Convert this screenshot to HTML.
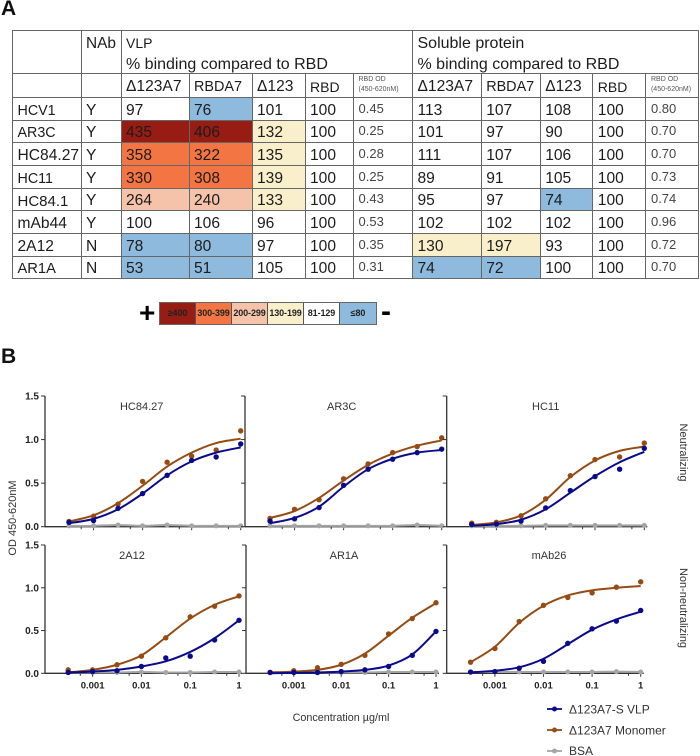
<!DOCTYPE html>
<html lang="en">
<head>
<meta charset="utf-8">
<title>VLP and soluble protein binding</title>
<style>
html,body{margin:0;padding:0;background:#fff;}
body{width:700px;height:756px;position:relative;overflow:hidden;font-family:"Liberation Sans",sans-serif;color:#1c1c1c;}
.panel-letter{position:absolute;font-weight:bold;font-size:21px;line-height:21px;color:#111;}
#tbl{position:absolute;left:12px;top:30px;display:grid;border-top:1px solid #666;border-left:1px solid #666;
 grid-template-columns:68.5px 40px 68px 63px 53px 48px 59.5px 68.7px 59px 52.6px 52.7px 53px;
 grid-template-rows:43px 24px 23px 22px 23px 23px 22px 23px 23px 22px;font-size:15.6px;border-collapse:separate;border-spacing:0;}
#tbl tbody,#tbl tr{display:contents;}
#tbl td{display:flex;align-items:center;box-sizing:border-box;border:0;border-right:1px solid #666;border-bottom:1px solid #666;padding:3px 0 0 4.5px;white-space:nowrap;overflow:hidden;}
#tbl td.h{display:block;line-height:21px;font-size:16px;padding-top:2px;}
#tbl td.h2{grid-column:span 5;}
#tbl td.od{font-size:13px;color:#444;padding:0 0 2px 5px;}
#tbl td.sm{display:block;font-size:7px;line-height:9.5px;color:#555;padding:1px 0 0 5px;}
#tbl td.n{font-size:14.3px;}
.r{background:#971c14;}.o{background:#f37544;}.p{background:#f4c3aa;}.y{background:#f9efcb;}.b{background:#8dbadd;}
#key{position:absolute;left:159px;top:302px;width:216px;height:21px;display:flex;border:1px solid #666;box-sizing:content-box;font-size:9px;font-weight:bold;text-align:center;line-height:21px;color:#222;}
#key div{width:36px;border-right:1px solid #555;box-sizing:border-box;white-space:nowrap;overflow:hidden;letter-spacing:-.1px;}
#key div:last-child{border-right:0;}
.sign{position:absolute;font-weight:bold;color:#000;}
#charts{position:absolute;left:0;top:0;}
</style>
</head>
<body>
<div class="panel-letter" style="left:1px;top:-2px">A</div>
<div class="panel-letter" style="left:1px;top:346px">B</div>

<table id="tbl">
<tr><td></td><td class="h" style="font-size:15.4px">NAb</td><td class="h h2"><span style="font-size:14px">VLP</span><br>% binding compared to RBD</td><td class="h h2">Soluble protein<br>% binding compared to RBD</td></tr>
<tr><td></td><td></td><td>Δ123A7</td><td style="font-size:14.4px">RBDA7</td><td>Δ123</td><td style="font-size:14px">RBD</td><td class="sm">RBD OD<br>(450-620nM)</td><td>Δ123A7</td><td style="font-size:14.4px">RBDA7</td><td>Δ123</td><td style="font-size:14px">RBD</td><td class="sm">RBD OD<br>(450-620nM)</td></tr>
<tr><td class="n">HCV1</td><td>Y</td><td>97</td><td class="b">76</td><td>101</td><td>100</td><td class="od">0.45</td><td>113</td><td>107</td><td>108</td><td>100</td><td class="od">0.80</td></tr>
<tr><td class="n">AR3C</td><td>Y</td><td class="r">435</td><td class="r">406</td><td class="y">132</td><td>100</td><td class="od">0.25</td><td>101</td><td>97</td><td>90</td><td>100</td><td class="od">0.70</td></tr>
<tr><td>HC84.27</td><td>Y</td><td class="o">358</td><td class="o">322</td><td class="y">135</td><td>100</td><td class="od">0.28</td><td>111</td><td>107</td><td>106</td><td>100</td><td class="od">0.70</td></tr>
<tr><td class="n">HC11</td><td>Y</td><td class="o">330</td><td class="o">308</td><td class="y">139</td><td>100</td><td class="od">0.25</td><td>89</td><td>91</td><td>105</td><td>100</td><td class="od">0.73</td></tr>
<tr><td style="font-size:15px">HC84.1</td><td>Y</td><td class="p">264</td><td class="p">240</td><td class="y">133</td><td>100</td><td class="od">0.43</td><td>95</td><td>97</td><td class="b">74</td><td>100</td><td class="od">0.74</td></tr>
<tr><td>mAb44</td><td>Y</td><td>100</td><td>106</td><td>96</td><td>100</td><td class="od">0.53</td><td>102</td><td>102</td><td>102</td><td>100</td><td class="od">0.96</td></tr>
<tr><td>2A12</td><td>N</td><td class="b">78</td><td class="b">80</td><td>97</td><td>100</td><td class="od">0.35</td><td class="y">130</td><td class="y">197</td><td>93</td><td>100</td><td class="od">0.72</td></tr>
<tr><td style="font-size:14.7px">AR1A</td><td>N</td><td class="b">53</td><td class="b">51</td><td>105</td><td>100</td><td class="od">0.31</td><td class="b">74</td><td class="b">72</td><td>100</td><td>100</td><td class="od">0.70</td></tr>
</table>

<div class="sign" style="left:139px;top:297px;font-size:28px;line-height:32px">+</div>
<div id="key">
<div class="r">≥400</div>
<div class="o">300-399</div>
<div class="p">200-299</div>
<div class="y">130-199</div>
<div style="background:#fff">81-129</div>
<div class="b">≤80</div>
</div>
<div class="sign" style="left:381px;top:295px;font-size:30px;line-height:34px">-</div>

<svg id="charts" width="700" height="756" viewBox="0 0 700 756" xmlns="http://www.w3.org/2000/svg" font-family="'Liberation Sans',sans-serif">
<text transform="translate(16,518) rotate(-90)" text-anchor="middle" font-size="11" fill="#333">OD 450-620nM</text>
<text x="341" y="721" text-anchor="middle" font-size="10.8" fill="#333">Concentration µg/ml</text>
<text transform="translate(680,452.5) rotate(90)" text-anchor="middle" font-size="11" fill="#333">Neutralizing</text>
<text transform="translate(680,608) rotate(90)" text-anchor="middle" font-size="11" fill="#333">Non-neutralizing</text>
<g>
<g><line x1="547" x2="562" y1="709" y2="709" stroke="#0a0a8c" stroke-width="1.8"/><circle cx="554.5" cy="709" r="2.5" fill="#0a0a8c"/><text x="569" y="713.5" font-size="12" fill="#333">Δ123A7-S VLP</text></g>
<g><line x1="547" x2="562" y1="730" y2="730" stroke="#964b12" stroke-width="1.8"/><circle cx="554.5" cy="730" r="2.5" fill="#964b12"/><text x="569" y="734.5" font-size="12" fill="#333">Δ123A7 Monomer</text></g>
<g><line x1="547" x2="562" y1="751" y2="751" stroke="#a5a5a5" stroke-width="1.8"/><circle cx="554.5" cy="751" r="2.5" fill="#a5a5a5"/><text x="569" y="755" font-size="12" fill="#333">BSA</text></g>
</g>
</svg>

<script>
// Shared axis data
const concentrations = [0.000316, 0.001, 0.00316, 0.01, 0.0316, 0.1, 0.316, 1];
const xTickValues = [0.001, 0.01, 0.1, 1];
const xTickLabels = ['0.001', '0.01', '0.1', '1'];
const xMinorTickValues = [0.00056, 0.0056, 0.056, 0.56];
const yTickValues = [0, 0.5, 1, 1.5];
const yTickLabels = ['0.0', '0.5', '1.0', '1.5'];
const panelNames = ['HC84.27', 'AR3C', 'HC11', '2A12', 'AR1A', 'mAb26'];

// HC84.27
const hc8427Vlp = [0.05, 0.07, 0.21, 0.38, 0.59, 0.76, 0.80, 0.95];
const hc8427VlpFit = [0.04, 0.09, 0.20, 0.38, 0.59, 0.75, 0.85, 0.91];
const hc8427Mono = [0.06, 0.12, 0.26, 0.52, 0.74, 0.81, 0.88, 1.10];
const hc8427MonoFit = [0.06, 0.13, 0.27, 0.47, 0.69, 0.85, 0.96, 1.01];
const hc8427Bsa = [0.01, 0.01, 0.02, 0.01, 0.02, 0.01, 0.01, 0.01];
// AR3C
const ar3cVlp = [0.065, 0.09, 0.22, 0.475, 0.66, 0.775, 0.85, 0.89];
const ar3cVlpFit = [0.04, 0.10, 0.23, 0.46, 0.66, 0.78, 0.85, 0.88];
const ar3cMono = [0.095, 0.20, 0.31, 0.55, 0.72, 0.85, 0.92, 1.02];
const ar3cMonoFit = [0.10, 0.18, 0.33, 0.53, 0.71, 0.84, 0.93, 0.99];
const ar3cBsa = [0.01, 0.01, 0.01, 0.01, 0.01, 0.01, 0.02, 0.01];
// HC11
const hc11Vlp = [0.025, 0.03, 0.065, 0.215, 0.415, 0.575, 0.66, 0.90];
const hc11VlpFit = [0.01, 0.03, 0.08, 0.20, 0.39, 0.58, 0.74, 0.86];
const hc11Mono = [0.04, 0.05, 0.125, 0.32, 0.585, 0.77, 0.80, 0.96];
const hc11MonoFit = [0.02, 0.05, 0.13, 0.31, 0.57, 0.76, 0.87, 0.92];
const hc11Bsa = [0.01, 0.01, 0.01, 0.015, 0.015, 0.015, 0.015, 0.015];
// 2A12
const a12Vlp = [0.01, 0.02, 0.03, 0.08, 0.18, 0.20, 0.39, 0.62];
const a12VlpFit = [0.01, 0.02, 0.04, 0.08, 0.14, 0.25, 0.41, 0.62];
const a12Mono = [0.04, 0.04, 0.10, 0.20, 0.415, 0.66, 0.785, 0.905];
const a12MonoFit = [0.01, 0.04, 0.10, 0.21, 0.42, 0.64, 0.80, 0.90];
const a12Bsa = [0.01, 0.01, 0.01, 0.015, 0.01, 0.01, 0.015, 0.015];
// AR1A
const ar1aVlp = [0.01, 0.01, 0.01, 0.02, 0.04, 0.08, 0.21, 0.49];
const ar1aVlpFit = [0.00, 0.005, 0.01, 0.02, 0.04, 0.09, 0.22, 0.49];
const ar1aMono = [0.01, 0.03, 0.065, 0.105, 0.21, 0.46, 0.64, 0.825];
const ar1aMonoFit = [0.01, 0.02, 0.04, 0.10, 0.23, 0.44, 0.65, 0.82];
const ar1aBsa = [0.01, 0.01, 0.01, 0.01, 0.01, 0.015, 0.015, 0.015];
// mAb26
const mab26Vlp = [0.015, 0.02, 0.06, 0.14, 0.35, 0.52, 0.61, 0.735];
const mab26VlpFit = [0.01, 0.03, 0.07, 0.17, 0.34, 0.51, 0.63, 0.72];
const mab26Mono = [0.13, 0.29, 0.605, 0.795, 0.887, 0.94, 1.007, 1.07];
const mab26MonoFit = [0.13, 0.31, 0.59, 0.79, 0.91, 0.97, 1.00, 1.02];
const mab26Bsa = [0.015, 0.015, 0.015, 0.015, 0.015, 0.015, 0.02, 0.015];

const panelVlp = [hc8427Vlp, ar3cVlp, hc11Vlp, a12Vlp, ar1aVlp, mab26Vlp];
const panelVlpFit = [hc8427VlpFit, ar3cVlpFit, hc11VlpFit, a12VlpFit, ar1aVlpFit, mab26VlpFit];
const panelMono = [hc8427Mono, ar3cMono, hc11Mono, a12Mono, ar1aMono, mab26Mono];
const panelMonoFit = [hc8427MonoFit, ar3cMonoFit, hc11MonoFit, a12MonoFit, ar1aMonoFit, mab26MonoFit];
const panelBsa = [hc8427Bsa, ar3cBsa, hc11Bsa, a12Bsa, ar1aBsa, mab26Bsa];

// Layout (kept apart from the data)
const layout = [
  {axisX: 45,    x1: 240.7, decade: 49.05, top: 396, bottom: 526.7, titleX: 141.7, titleY: 410},
  {axisX: 245,   x1: 441.7, decade: 49.05, top: 396, bottom: 526.7, titleX: 341.7, titleY: 410},
  {axisX: 446.7, x1: 644.3, decade: 49.3,  top: 396, bottom: 526.7, titleX: 545.7, titleY: 410},
  {axisX: 45,    x1: 239,   decade: 48.8,  top: 545, bottom: 673.3, titleX: 132,   titleY: 559},
  {axisX: 246,   x1: 436,   decade: 47.4,  top: 545, bottom: 673.3, titleX: 344,   titleY: 559},
  {axisX: 446.7, x1: 640.7, decade: 48.6,  top: 545, bottom: 673.3, titleX: 549,   titleY: 559}
];
const VLP_COLOR = '#0a0a8c', MONO_COLOR = '#964b12', BSA_COLOR = '#a5a5a5', AXIS_COLOR = '#333';
const svg = document.getElementById('charts');
const NS = 'http://www.w3.org/2000/svg';

function make(tag, parent, props) {
  const e = document.createElementNS(NS, tag);
  for (const k in props) e.setAttribute(k, props[k]);
  parent.appendChild(e);
  return e;
}
function smoothPath(pts) {
  let d = 'M' + pts[0][0].toFixed(2) + ' ' + pts[0][1].toFixed(2);
  for (let i = 0; i < pts.length - 1; i++) {
    const p0 = pts[Math.max(i - 1, 0)], p1 = pts[i], p2 = pts[i + 1], p3 = pts[Math.min(i + 2, pts.length - 1)];
    const c1x = p1[0] + (p2[0] - p0[0]) / 6, c1y = p1[1] + (p2[1] - p0[1]) / 6;
    const c2x = p2[0] - (p3[0] - p1[0]) / 6, c2y = p2[1] - (p3[1] - p1[1]) / 6;
    d += 'C' + c1x.toFixed(2) + ' ' + c1y.toFixed(2) + ' ' + c2x.toFixed(2) + ' ' + c2y.toFixed(2) + ' ' + p2[0].toFixed(2) + ' ' + p2[1].toFixed(2);
  }
  return d;
}

panelNames.forEach(function (name, idx) {
  const L = layout[idx];
  const xScale = function (c) { return L.x1 + Math.log10(c) * L.decade; };
  const yScale = function (v) { return L.bottom - (v / 1.5) * (L.bottom - L.top); };
  const xEnd = xScale(1) + 3;
  const isBottomRow = idx >= 3;
  const isFirstCol = idx % 3 === 0;

  const g = make('g', svg, {});
  
  

  const title = make('text', g, {x: L.titleX, y: L.titleY, 'text-anchor': 'middle', 'font-size': 11, fill: '#333'});
  title.textContent = name;
  
  

  const yAxis = make('line', g, {x1: L.axisX, x2: L.axisX, y1: L.top, y2: L.bottom + 0.5, stroke: AXIS_COLOR, 'stroke-width': 1.3});
  
  

  const xAxis = make('line', g, {x1: L.axisX, x2: xEnd, y1: L.bottom, y2: L.bottom, stroke: AXIS_COLOR, 'stroke-width': 1.3});
  
  

  yTickValues.forEach(function (v, i) {
    const tick = make('line', g, {x1: L.axisX - 4, x2: L.axisX, y1: yScale(v), y2: yScale(v), stroke: AXIS_COLOR, 'stroke-width': 1});
    
    
    if (isFirstCol) {
      const lab = make('text', g, {x: L.axisX - 6, y: yScale(v) + 3.5, 'text-anchor': 'end', 'font-size': 10, 'font-weight': 'bold', fill: '#222'});
      lab.textContent = yTickLabels[i];
      
      
    }
  });
  xTickValues.forEach(function (v, i) {
    const tick = make('line', g, {x1: xScale(v), x2: xScale(v), y1: L.bottom, y2: L.bottom + 3.5, stroke: AXIS_COLOR, 'stroke-width': 1});
    
    
    if (isBottomRow) {
      const lab = make('text', g, {x: xScale(v), y: L.bottom + 15, 'text-anchor': 'middle', 'font-size': 9.5, 'font-weight': 'bold', fill: '#222'});
      lab.textContent = xTickLabels[i];
      
      
    }
  });
  xMinorTickValues.forEach(function (v) {
    const tick = make('line', g, {x1: xScale(v), x2: xScale(v), y1: L.bottom, y2: L.bottom + 2.5, stroke: AXIS_COLOR, 'stroke-width': 1});
    
    
  });

  // BSA
  const bsaPts = panelBsa[idx].map(function (v, i) { return [xScale(concentrations[i]), yScale(v)]; });
  const bsaLine = make('path', g, {d: smoothPath(bsaPts), fill: 'none', stroke: BSA_COLOR, 'stroke-width': 2});
  
  
  bsaPts.forEach(function (p) {
    const dot = make('circle', g, {cx: p[0], cy: p[1], r: 2.5, fill: BSA_COLOR});
    
    
  });

  // Monomer
  const monoFit = panelMonoFit[idx].map(function (v, i) { return [xScale(concentrations[i]), yScale(v)]; });
  const monoLine = make('path', g, {d: smoothPath(monoFit), fill: 'none', stroke: MONO_COLOR, 'stroke-width': 2});
  
  
  panelMono[idx].forEach(function (v, i) {
    const dot = make('circle', g, {cx: xScale(concentrations[i]), cy: yScale(v), r: 2.7, fill: MONO_COLOR});
    
    
  });

  // VLP
  const vlpFit = panelVlpFit[idx].map(function (v, i) { return [xScale(concentrations[i]), yScale(v)]; });
  const vlpLine = make('path', g, {d: smoothPath(vlpFit), fill: 'none', stroke: VLP_COLOR, 'stroke-width': 2});
  
  
  panelVlp[idx].forEach(function (v, i) {
    const dot = make('circle', g, {cx: xScale(concentrations[i]), cy: yScale(v), r: 2.7, fill: VLP_COLOR});
    
    
  });
});
</script>
</body>
</html>
